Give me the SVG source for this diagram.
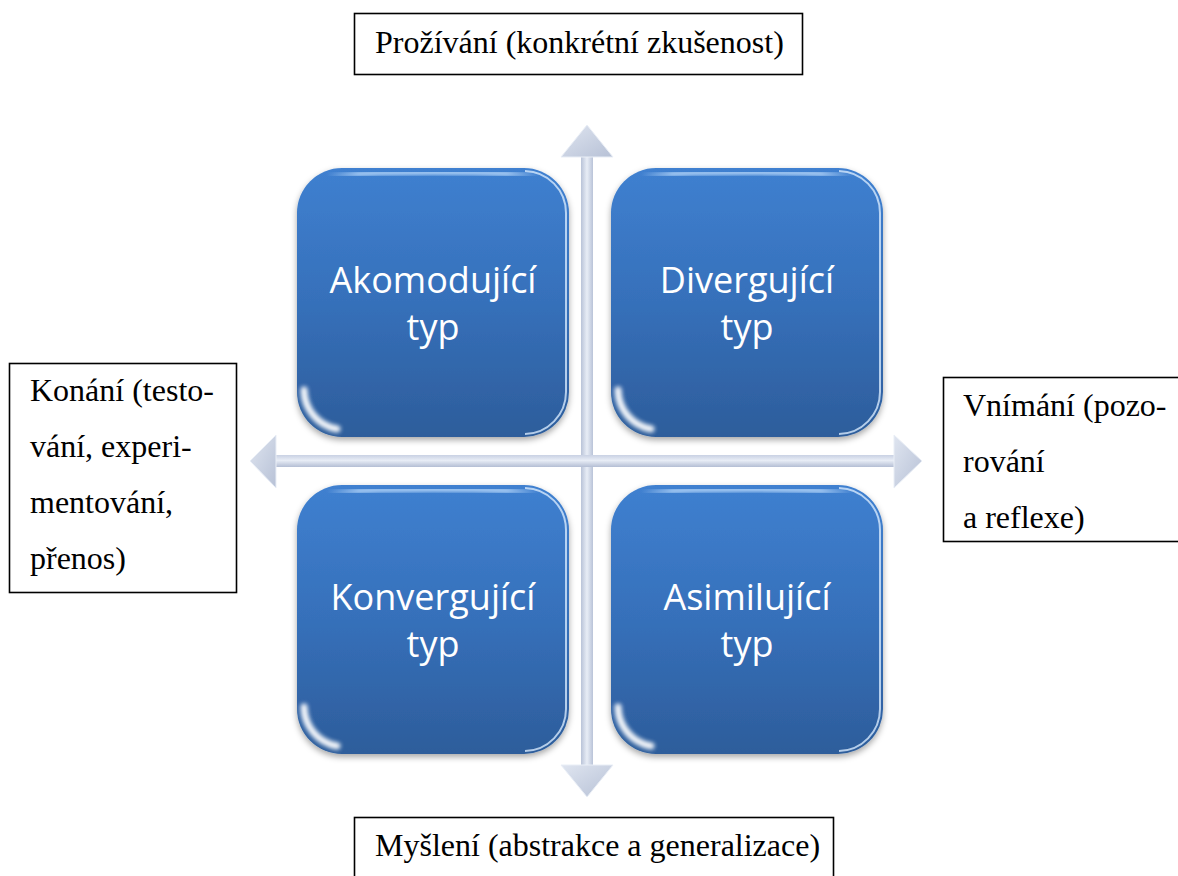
<svg xmlns="http://www.w3.org/2000/svg" xmlns:xlink="http://www.w3.org/1999/xlink" width="1178" height="876" viewBox="0 0 1178 876">
  <style>
    .box { fill: #ffffff; stroke: #000000; stroke-width: 1.6; }
    .lbl { font-family: "Liberation Serif", "Times New Roman", serif; font-size: 32px; fill: #000000; }
    .tile-text { font-family: "Open Sans", "Noto Sans", sans-serif; font-size: 36px; fill: #ffffff; text-anchor: middle; }
  </style>
  <defs>
    <linearGradient id="tileFill" x1="0" y1="0" x2="0" y2="1">
      <stop offset="0" stop-color="#3f80d0"/>
      <stop offset="0.5" stop-color="#3670ba"/>
      <stop offset="1" stop-color="#2d5d9b"/>
    </linearGradient>
    <linearGradient id="topGloss" x1="0" y1="0" x2="1" y2="0">
      <stop offset="0" stop-color="#a9cdf5" stop-opacity="0"/>
      <stop offset="0.15" stop-color="#a9cdf5" stop-opacity="0.9"/>
      <stop offset="0.85" stop-color="#a9cdf5" stop-opacity="0.9"/>
      <stop offset="1" stop-color="#a9cdf5" stop-opacity="0"/>
    </linearGradient>
    <linearGradient id="vShaft" x1="0" y1="0" x2="1" y2="0">
      <stop offset="0" stop-color="#b9c3d8"/>
      <stop offset="0.5" stop-color="#e8edf6"/>
      <stop offset="1" stop-color="#b9c3d8"/>
    </linearGradient>
    <linearGradient id="hShaft" x1="0" y1="0" x2="0" y2="1">
      <stop offset="0" stop-color="#c9d1e3"/>
      <stop offset="0.45" stop-color="#e8edf6"/>
      <stop offset="1" stop-color="#b4bed4"/>
    </linearGradient>
    <linearGradient id="headFill" x1="0" y1="0" x2="1" y2="1">
      <stop offset="0" stop-color="#dfe5f0"/>
      <stop offset="1" stop-color="#b7c1d6"/>
    </linearGradient>
    <filter id="shadow" x="-10%" y="-10%" width="120%" height="125%">
      <feDropShadow dx="0" dy="3" stdDeviation="3" flood-color="#000000" flood-opacity="0.35"/>
    </filter>
    <filter id="soft" x="-20%" y="-20%" width="140%" height="140%">
      <feGaussianBlur stdDeviation="1.4"/>
    </filter>
    <filter id="glow" x="-30%" y="-30%" width="160%" height="160%">
      <feGaussianBlur stdDeviation="2.2"/>
    </filter>
    <clipPath id="tileClip">
      <rect width="272" height="269" rx="45"/>
    </clipPath>
    <g id="tile">
      <rect width="272" height="269" rx="45" fill="url(#tileFill)" filter="url(#shadow)"/>
      <g clip-path="url(#tileClip)">
        <path d="M30,7 Q136,2 242,7" fill="none" stroke="url(#topGloss)" stroke-width="5" filter="url(#soft)"/>
        <path d="M228,3 A42,42 0 0 1 269,45 V224 A42,42 0 0 1 228,266" fill="none" stroke="#d6e8fc" stroke-width="2" opacity="0.8"/>
        <path d="M7,222 A40,40 0 0 0 40,261" fill="none" stroke="#ffffff" stroke-width="7" stroke-linecap="round" filter="url(#glow)" opacity="0.95"/>
      </g>
    </g>
  </defs>

  <rect width="1178" height="876" fill="#ffffff"/>

  <g id="connectors">
    <g id="axis-vertical">
      <rect x="581" y="155" width="12" height="612" fill="url(#vShaft)"/>
      <polygon points="587,125 613,157 561,157" fill="url(#headFill)" stroke="#e9eef6" stroke-width="1"/>
      <polygon points="587,797 613,765 561,765" fill="url(#headFill)" stroke="#e9eef6" stroke-width="1"/>
    </g>
    <g id="axis-horizontal">
      <rect x="273" y="455" width="622" height="12" fill="url(#hShaft)"/>
      <polygon points="250,461 276,435 276,488" fill="url(#headFill)" stroke="#e9eef6" stroke-width="1"/>
      <polygon points="922,461 894,435 894,488" fill="url(#headFill)" stroke="#e9eef6" stroke-width="1"/>
    </g>
  </g>

  <g id="node-akomodujici">
    <use xlink:href="#tile" href="#tile" x="297" y="168"/>
    <text class="tile-text" x="433" y="293">Akomodující</text>
    <text class="tile-text" x="433" y="340">typ</text>
  </g>
  <g id="node-divergujici">
    <use xlink:href="#tile" href="#tile" x="611" y="168"/>
    <text class="tile-text" x="747" y="293">Divergující</text>
    <text class="tile-text" x="747" y="340">typ</text>
  </g>
  <g id="node-konvergujici">
    <use xlink:href="#tile" href="#tile" x="297" y="485"/>
    <text class="tile-text" x="433" y="610">Konvergující</text>
    <text class="tile-text" x="433" y="657">typ</text>
  </g>
  <g id="node-asimilujici">
    <use xlink:href="#tile" href="#tile" x="611" y="485"/>
    <text class="tile-text" x="747" y="610">Asimilující</text>
    <text class="tile-text" x="747" y="657">typ</text>
  </g>

  <g id="label-top">
    <rect class="box" x="354.5" y="13.5" width="448" height="61"/>
    <text class="lbl" x="375" y="53">Prožívání (konkrétní zkušenost)</text>
  </g>
  <g id="label-bottom">
    <rect class="box" x="354.5" y="817.5" width="479" height="70"/>
    <text class="lbl" x="375" y="856">Myšlení (abstrakce a generalizace)</text>
  </g>
  <g id="label-left">
    <rect class="box" x="9.5" y="363.5" width="227" height="229"/>
    <text class="lbl" x="30" y="401">Konání (testo-</text>
    <text class="lbl" x="30" y="457">vání, experi-</text>
    <text class="lbl" x="30" y="513">mentování,</text>
    <text class="lbl" x="30" y="569">přenos)</text>
  </g>
  <g id="label-right">
    <rect class="box" x="943.5" y="377.5" width="250" height="164"/>
    <text class="lbl" x="963" y="416">Vnímání (pozo-</text>
    <text class="lbl" x="963" y="472">rování</text>
    <text class="lbl" x="963" y="528">a reflexe)</text>
  </g>
</svg>
